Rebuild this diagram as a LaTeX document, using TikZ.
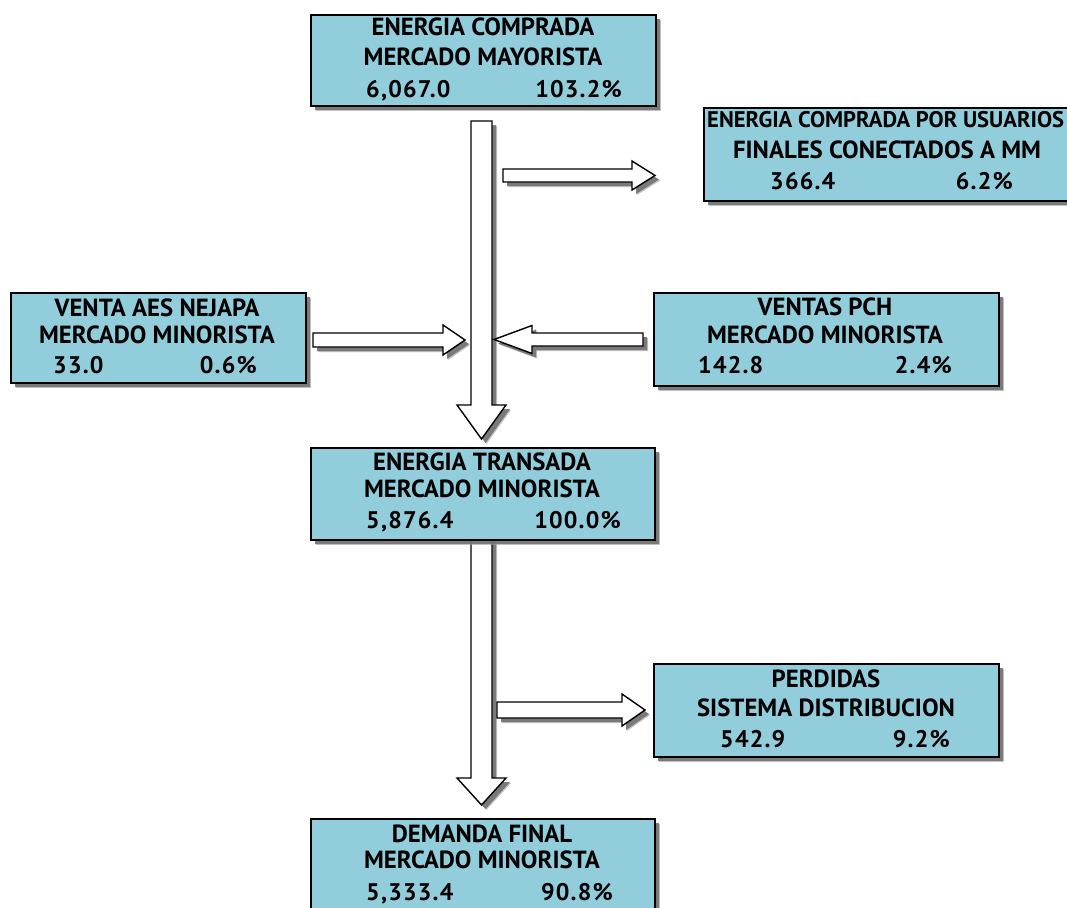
\documentclass[tikz,border=0pt]{standalone}
\usepackage{fontspec}
\usepackage{graphicx}
\usetikzlibrary{calc,shadows}
\newfontfamily\ptsans{PT Sans}
\newfontfamily\ptnum[LetterSpace=5]{PT Sans}
\definecolor{boxblue}{RGB}{146,205,220}
\newcommand\ttlfont{\ptsans\bfseries\fontsize{24.8}{27}\selectfont}
\newcommand\nmfont{\ptnum\bfseries\fontsize{24}{27}\selectfont}
\tikzset{
  shadowed/.style={drop shadow={shadow xshift=5pt, shadow yshift=-5pt, fill=black!40, opacity=0.6},
                   drop shadow={shadow xshift=4pt, shadow yshift=-4pt, fill=black!55, opacity=0.9}},
  ebox/.style={draw=black, line width=1.8pt, fill=boxblue, rectangle, anchor=north west, inner sep=0pt, shadowed},
  ttl/.style={anchor=base, font=\ttlfont, inner sep=0pt},
  numl/.style={anchor=base west, font=\nmfont, inner sep=0pt},
  numr/.style={anchor=base east, font=\nmfont, inner sep=0pt},
  blk/.style={draw=black, line width=1.4pt, fill=white, line join=miter, shadowed}
}
\newcommand\downblock[3]{%
  \path[blk] let \p1=#1, \p2=#2 in
   (\x1-10.5pt,\y1) -- (\x1+10.5pt,\y1) -- (\x1+10.5pt,\y2+#3pt) -- (\x1+24.5pt,\y2+#3pt)
   -- (\x2,\y2) -- (\x1-24.5pt,\y2+#3pt) -- (\x1-10.5pt,\y2+#3pt) -- cycle;}
\newcommand\rightblock[5]{%
  \path[blk] let \p1=#1, \p2=#2 in
   (\x1,\y1+#3pt) -- (\x2-#5pt,\y1+#3pt) -- (\x2-#5pt,\y1+#4pt) -- (\x2,\y2)
   -- (\x2-#5pt,\y1-#4pt) -- (\x2-#5pt,\y1-#3pt) -- (\x1,\y1-#3pt) -- cycle;}
\newcommand\leftblock[5]{%
  \path[blk] let \p1=#1, \p2=#2 in
   (\x1,\y1+#3pt) -- (\x2+#5pt,\y1+#3pt) -- (\x2+#5pt,\y1+#4pt) -- (\x2,\y2)
   -- (\x2+#5pt,\y1-#4pt) -- (\x2+#5pt,\y1-#3pt) -- (\x1,\y1-#3pt) -- cycle;}
\begin{document}
\begin{tikzpicture}[x=1pt,y=-1pt]
\useasboundingbox (0,0) rectangle (1067,907);
\fill[white] (0,0) rectangle (1067,907);
\clip (0,0) rectangle (1067,907);

% connector end points
\coordinate (a1s) at (481.5,121);  \coordinate (a1t) at (481.5,439);
\coordinate (a2s) at (503,175.5);  \coordinate (a2t) at (655,175.5);
\coordinate (a3s) at (313,340);    \coordinate (a3t) at (465,340);
\coordinate (a4s) at (643,339.5);  \coordinate (a4t) at (494,339.5);
\coordinate (a5s) at (481.5,537);  \coordinate (a5t) at (481.5,805);
\coordinate (a6s) at (497,710);    \coordinate (a6t) at (645,710);

% block arrows
\downblock{(a1s)}{(a1t)}{34}
\rightblock{(a2s)}{(a2t)}{6.5}{14.5}{23}
\rightblock{(a3s)}{(a3t)}{7}{15}{22}
\leftblock{(a4s)}{(a4t)}{6.5}{14}{38}
\downblock{(a5s)}{(a5t)}{27}
\rightblock{(a6s)}{(a6t)}{8}{16}{23}

% boxes
\node[ebox, minimum width=345pt, minimum height=91pt] (top) at (310,14) {};
\node[ttl] (top1) at (483,36) {ENERGIA COMPRADA};
\node[ttl] (top2) at (483,66) {MERCADO MAYORISTA};
\node[numl] (topL) at (366,97) {6,067.0};
\node[numr] (topR) at (622,97) {103.2\%};

\node[ebox, minimum width=366pt, minimum height=93pt] (usu) at (703,107) {};
\node[ttl, anchor=base west] (usu1) at (707,127) {\resizebox{357pt}{!}{ENERGIA COMPRADA POR USUARIOS}};
\node[ttl] (usu2) at (887,158) {FINALES CONECTADOS A MM};
\node[numl] (usuL) at (770,189) {366.4};
\node[numr] (usuR) at (1013,189) {6.2\%};

\node[ebox, minimum width=295pt, minimum height=90pt] (aes) at (10,292) {};
\node[ttl] (aes1) at (157,316) {VENTA AES NEJAPA};
\node[ttl] (aes2) at (157,343) {MERCADO MINORISTA};
\node[numl] (aesL) at (53,373) {33.0};
\node[numr] (aesR) at (257,373) {0.6\%};

\node[ebox, minimum width=345pt, minimum height=93pt] (pch) at (653,292) {};
\node[ttl] (pch1) at (825,315) {VENTAS PCH};
\node[ttl] (pch2) at (825,343) {MERCADO MINORISTA};
\node[numl] (pchL) at (698,373) {142.8};
\node[numr] (pchR) at (952,373) {2.4\%};

\node[ebox, minimum width=344pt, minimum height=92pt] (mid) at (310,447) {};
\node[ttl] (mid1) at (482,470) {ENERGIA TRANSADA};
\node[ttl] (mid2) at (482,497) {MERCADO MINORISTA};
\node[numl] (midL) at (366,528) {5,876.4};
\node[numr] (midR) at (621,528) {100.0\%};

\node[ebox, minimum width=345pt, minimum height=93pt] (perd) at (653,663) {};
\node[ttl] (perd1) at (826,687) {PERDIDAS};
\node[ttl] (perd2) at (826,716) {SISTEMA DISTRIBUCION};
\node[numl] (perdL) at (720,747) {542.9};
\node[numr] (perdR) at (950,747) {9.2\%};

\node[ebox, minimum width=344pt, minimum height=100pt] (bot) at (310,818) {};
\node[ttl] (bot1) at (482,842) {DEMANDA FINAL};
\node[ttl] (bot2) at (482,868) {MERCADO MINORISTA};
\node[numl] (botL) at (366,900) {5,333.4};
\node[numr] (botR) at (613,900) {90.8\%};
\end{tikzpicture}
\end{document}
